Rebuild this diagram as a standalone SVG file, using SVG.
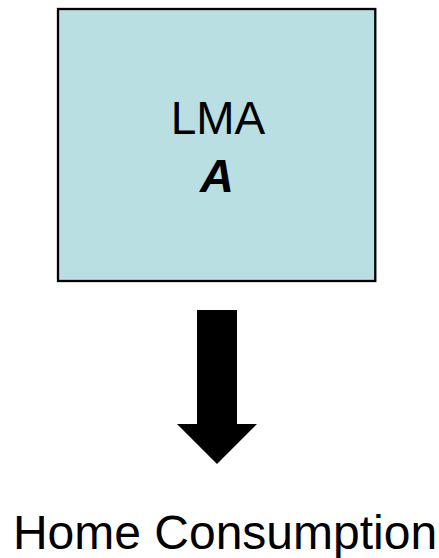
<svg xmlns="http://www.w3.org/2000/svg" width="439" height="558" viewBox="0 0 439 558">
<style>
.lbl{font-family:"Liberation Sans",Arial,sans-serif;fill:#000;text-anchor:middle}
</style>
<rect width="439" height="558" fill="#fff"/>
<g id="lma">
<rect x="58" y="9" width="317.3" height="272" fill="#BADFE2" stroke="#000" stroke-width="2.3"/>
<text class="lbl" x="218" y="134.3" font-size="46">LMA</text>
<text class="lbl" x="217" y="191.7" font-size="47" font-weight="bold" font-style="italic">A</text>
</g>
<g id="connectors">
<polygon points="197,310 237,310 237,424 257,424 217,464 177,424 197,424" fill="#000"/>
</g>
<g id="home">
<text class="lbl" x="225" y="549" font-size="48">Home Consumption</text>
</g>
</svg>
